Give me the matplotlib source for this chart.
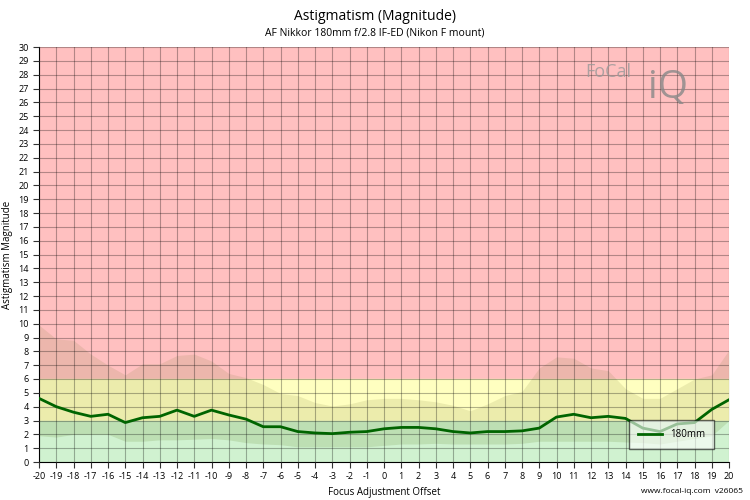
import matplotlib
matplotlib.use("Agg")
import matplotlib.pyplot as plt
import numpy as np

plt.rcParams['font.family'] = ['Open Sans', 'DejaVu Sans']
plt.rcParams['axes.unicode_minus'] = False

offsets = list(range(-20, 21))
magnitude = [4.6, 4.0, 3.6, 3.3, 3.45, 2.85, 3.2, 3.3, 3.75, 3.3, 3.75, 3.4, 3.1, 2.55, 2.55, 2.2, 2.1, 2.05, 2.15, 2.2,
             2.4, 2.5, 2.5, 2.4, 2.2, 2.1, 2.2, 2.2, 2.25, 2.45, 3.25, 3.45, 3.2, 3.3, 3.15, 2.45, 2.2, 2.75, 2.85, 3.8, 4.5]
band_upper = [9.9, 8.9, 8.8, 7.8, 7.0, 6.3, 7.1, 7.1, 7.7, 7.8, 7.3, 6.4, 6.1, 5.6, 4.95, 4.8, 4.3, 4.05, 4.2, 4.5,
              4.6, 4.6, 4.5, 4.35, 4.1, 3.7, 4.2, 4.8, 5.1, 6.8, 7.6, 7.5, 6.8, 6.6, 5.3, 4.6, 4.6, 5.3, 6.0, 6.3, 8.1]
band_lower = [1.9, 1.8, 2.0, 2.0, 2.0, 1.5, 1.5, 1.6, 1.6, 1.65, 1.7, 1.6, 1.4, 1.3, 1.25, 1.1, 1.1, 1.1, 1.1, 1.1,
              1.2, 1.3, 1.3, 1.35, 1.3, 1.3, 1.3, 1.3, 1.35, 1.5, 1.5, 1.5, 1.5, 1.5, 1.45, 1.4, 1.3, 1.5, 1.7, 1.9, 3.0]

fig = plt.figure(figsize=(7.5, 5), dpi=100)
ax = fig.add_axes([39/750, 38/500, 690/750, 415/500])
ax.set_xlim(-20, 20)
ax.set_ylim(0, 30)
ax.axhspan(6, 30, color='#ffc0c0', zorder=0)
ax.axhspan(3, 6, color='#ffffc0', zorder=0)
ax.axhspan(0, 3, color='#c8f0c8', zorder=0)
ax.fill_between(offsets, band_lower, band_upper, color='#808040', alpha=0.15, lw=0, zorder=1)
ax.fill_between(offsets, 0, band_lower, color='#ffffff', alpha=0.15, lw=0, zorder=1)
ax.set_xticks(offsets)
ax.set_yticks(range(0, 31))
ax.grid(True, color='#000000', alpha=0.3, lw=0.8, zorder=2)
ax.set_axisbelow(False)
ax.plot(offsets, magnitude, color='#006400', lw=2, label='180mm', zorder=3)
ax.tick_params(labelsize=6.5, length=4, color='#333333')
for s in ['top', 'right']:
    ax.spines[s].set_visible(False)
ax.set_xlabel('Focus Adjustment Offset', fontsize=7)
ax.set_ylabel('Astigmatism Magnitude', fontsize=7)
leg = ax.legend(loc='lower right', bbox_to_anchor=(0.985, 0.02), fontsize=7, fancybox=False,
                edgecolor='black', framealpha=0.6, handlelength=2.5, borderpad=0.9)
fig.text(375/750, 1-16/500, 'Astigmatism (Magnitude)', ha='center', va='center', fontsize=10)
fig.text(375/750, 1-33/500, 'AF Nikkor 180mm f/2.8 IF-ED (Nikon F mount)', ha='center', va='center', fontsize=7.5)
fig.text(0.99, 0.01, 'www.focal-iq.com  v26065', ha='right', va='bottom', fontsize=6)
fig.text(585/750, 1-72/500, 'FoCal', fontsize=13, color='#999999', alpha=0.8, va='center')
fig.text(648/750, 1-88/500, 'iQ', fontsize=28, color='#888888', alpha=0.8, va='center')
fig.savefig('out.png')
